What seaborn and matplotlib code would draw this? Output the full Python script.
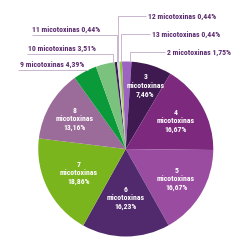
import matplotlib
matplotlib.use("Agg")
import matplotlib.pyplot as plt
from matplotlib import font_manager
import seaborn as sns
import numpy as np

categories = ["2", "3", "4", "5", "6", "7", "8", "9", "10", "11", "12", "13"]
values = [1.75, 7.46, 16.67, 16.67, 16.23, 18.86, 13.16, 4.39, 3.51, 0.44, 0.44, 0.44]
colors = ["#9d63c2", "#3f1a50", "#7d2a7e", "#9a4ca0", "#512a6e", "#7ab51d",
          "#9b6b9a", "#0a9a3a", "#7cc27f", "#3a2050", "#d8d0dc", "#8dc63f"]
word = "micotoxinas"

sns.set_theme(style="white")

# choose a condensed font if one is installed
fonts = font_manager.fontManager.ttflist
names = {f.name for f in fonts}
font_kw = {}
narrow_names = ["Liberation Sans Narrow", "Roboto Condensed", "Open Sans Condensed",
                "Noto Sans Condensed", "DejaVu Sans Condensed"]
found = [n for n in narrow_names if n in names]
cond_fams = sorted({f.name for f in fonts
                    if str(f.stretch) in ("condensed", "semi-condensed", "extra-condensed")
                    or (isinstance(f.stretch, int) and f.stretch < 500)})
if found:
    fam = [found[0], "DejaVu Sans"]
    fs_in, fs_out = 5.6, 5.6
elif cond_fams:
    fam = [cond_fams[0], "DejaVu Sans"]
    font_kw = {"fontstretch": "condensed"}
    fs_in, fs_out = 5.4, 5.4
else:
    fam = ["Liberation Sans", "DejaVu Sans"]
    fs_in, fs_out = 4.6, 4.7
plt.rcParams["font.family"] = fam

def pct(v):
    return f"{v:.2f}".replace(".", ",") + "%"

fig = plt.figure(figsize=(2.5, 2.5), dpi=100)
fig.patch.set_facecolor("white")
ax = fig.add_axes([0.153, 0.054, 0.70, 0.70])
wedges, _ = ax.pie(values, colors=colors, startangle=92.5, counterclock=False,
                   wedgeprops=dict(linewidth=0))
ax.set_xlim(-1, 1)
ax.set_ylim(-1, 1)
ax.set_aspect("equal")

# inner labels (slices 3..8)
inner_r = {1: 0.76, 2: 0.66, 3: 0.67, 4: 0.56, 5: 0.60, 6: 0.68}
for i, r in inner_r.items():
    w = wedges[i]
    th = np.deg2rad((w.theta1 + w.theta2) / 2)
    ax.text(r * np.cos(th), r * np.sin(th),
            f"{categories[i]}\n{word}\n{pct(values[i])}",
            ha="center", va="center", color="white", fontsize=fs_in,
            fontweight="bold", linespacing=1.25, **font_kw)

# outer labels with leader lines (pixel coordinate overlay)
ov = fig.add_axes([0, 0, 1, 1])
ov.set_xlim(0, 250)
ov.set_ylim(250, 0)
ov.axis("off")
ov.patch.set_alpha(0)

line_col = "#c8b6cf"
text_col = "#5b2c6f"
outer = {
    10: ([118, 118, 146], [62, 16, 16], 148, 16),
    11: ([121, 121, 150], [62, 34, 34], 152, 34),
    0: ([130, 130, 165], [62, 52, 52], 167, 52),
    9: ([117, 117, 32], [62, 35, 35], 32, 29.5),
    8: ([113, 113, 27], [63, 54, 54], 28, 48.5),
    7: ([88, 18], [70, 70], 20, 64.5),
}
for i, (xs, ys, tx, ty) in outer.items():
    ov.plot(xs, ys, color=line_col, lw=0.7, solid_capstyle="butt")
    ov.text(tx, ty, f"{categories[i]} {word} {pct(values[i])}", ha="left", va="center",
            color=text_col, fontsize=fs_out, fontweight="bold", **font_kw)

fig.savefig("out.png", dpi=100, facecolor="white")
